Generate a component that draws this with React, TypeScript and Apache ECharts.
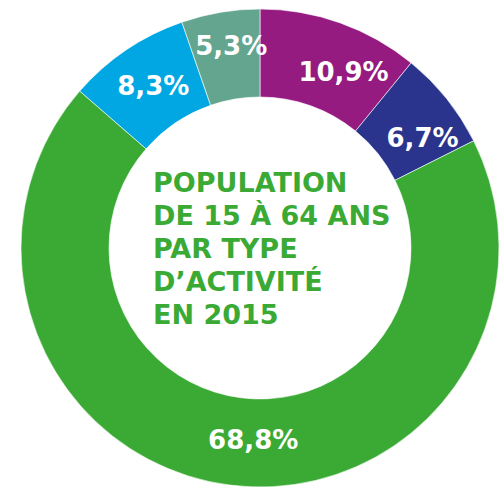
import React, { useEffect, useRef } from "react";
import * as echarts from "echarts";

const categories = ["Catégorie A", "Catégorie B", "Catégorie C", "Catégorie D", "Catégorie E"];
const values = [10.9, 6.7, 68.8, 8.3, 5.3];
const colors = ["#951B81", "#2A348C", "#3AAA35", "#00A7E2", "#63A58F"];
const titleLines = ["POPULATION", "DE 15 À 64 ANS", "PAR TYPE", "D’ACTIVITÉ", "EN 2015"];

// label nudges (style only)
const labelNudge = [
  [17, 11],
  [8, 14],
  [18, -4],
  [4, 2],
  [4, -7],
];

export default function App() {
  const ref = useRef<HTMLDivElement>(null);
  useEffect(() => {
    if (!ref.current) return;
    const chart = echarts.init(ref.current, null, { renderer: "svg" });
    chart.setOption({
      animation: false,
      backgroundColor: "#ffffff",
      title: {
        text: titleLines.join("\n"),
        left: 153,
        top: 166,
        padding: 0,
        textStyle: {
          fontFamily: "DejaVu Sans",
          fontWeight: "bold",
          fontSize: 27,
          lineHeight: 33,
          color: "#3AAA35",
        },
      },
      series: [
        {
          type: "pie",
          center: [260, 248],
          radius: [151, 239],
          startAngle: 90,
          clockwise: true,
          avoidLabelOverlap: false,
          itemStyle: { borderColor: "#ffffff", borderWidth: 0.6 },
          label: {
            show: true,
            position: "inside",
            color: "#ffffff",
            fontFamily: "DejaVu Sans",
            fontWeight: "bold",
            fontSize: 26,
            formatter: (p: any) => p.value.toFixed(1).replace(".", ",") + "%",
          },
          labelLine: { show: false },
          labelLayout: (p: any) => ({
            dx: labelNudge[p.dataIndex][0],
            dy: labelNudge[p.dataIndex][1],
          }),
          emphasis: { disabled: true },
          data: categories.map((c, i) => ({
            name: c,
            value: values[i],
            itemStyle: { color: colors[i] },
          })),
        },
      ],
    });
    return () => chart.dispose();
  }, []);
  return (
    <div
      ref={ref}
      style={{ position: "absolute", left: 0, top: 0, width: 500, height: 487 }}
    />
  );
}
